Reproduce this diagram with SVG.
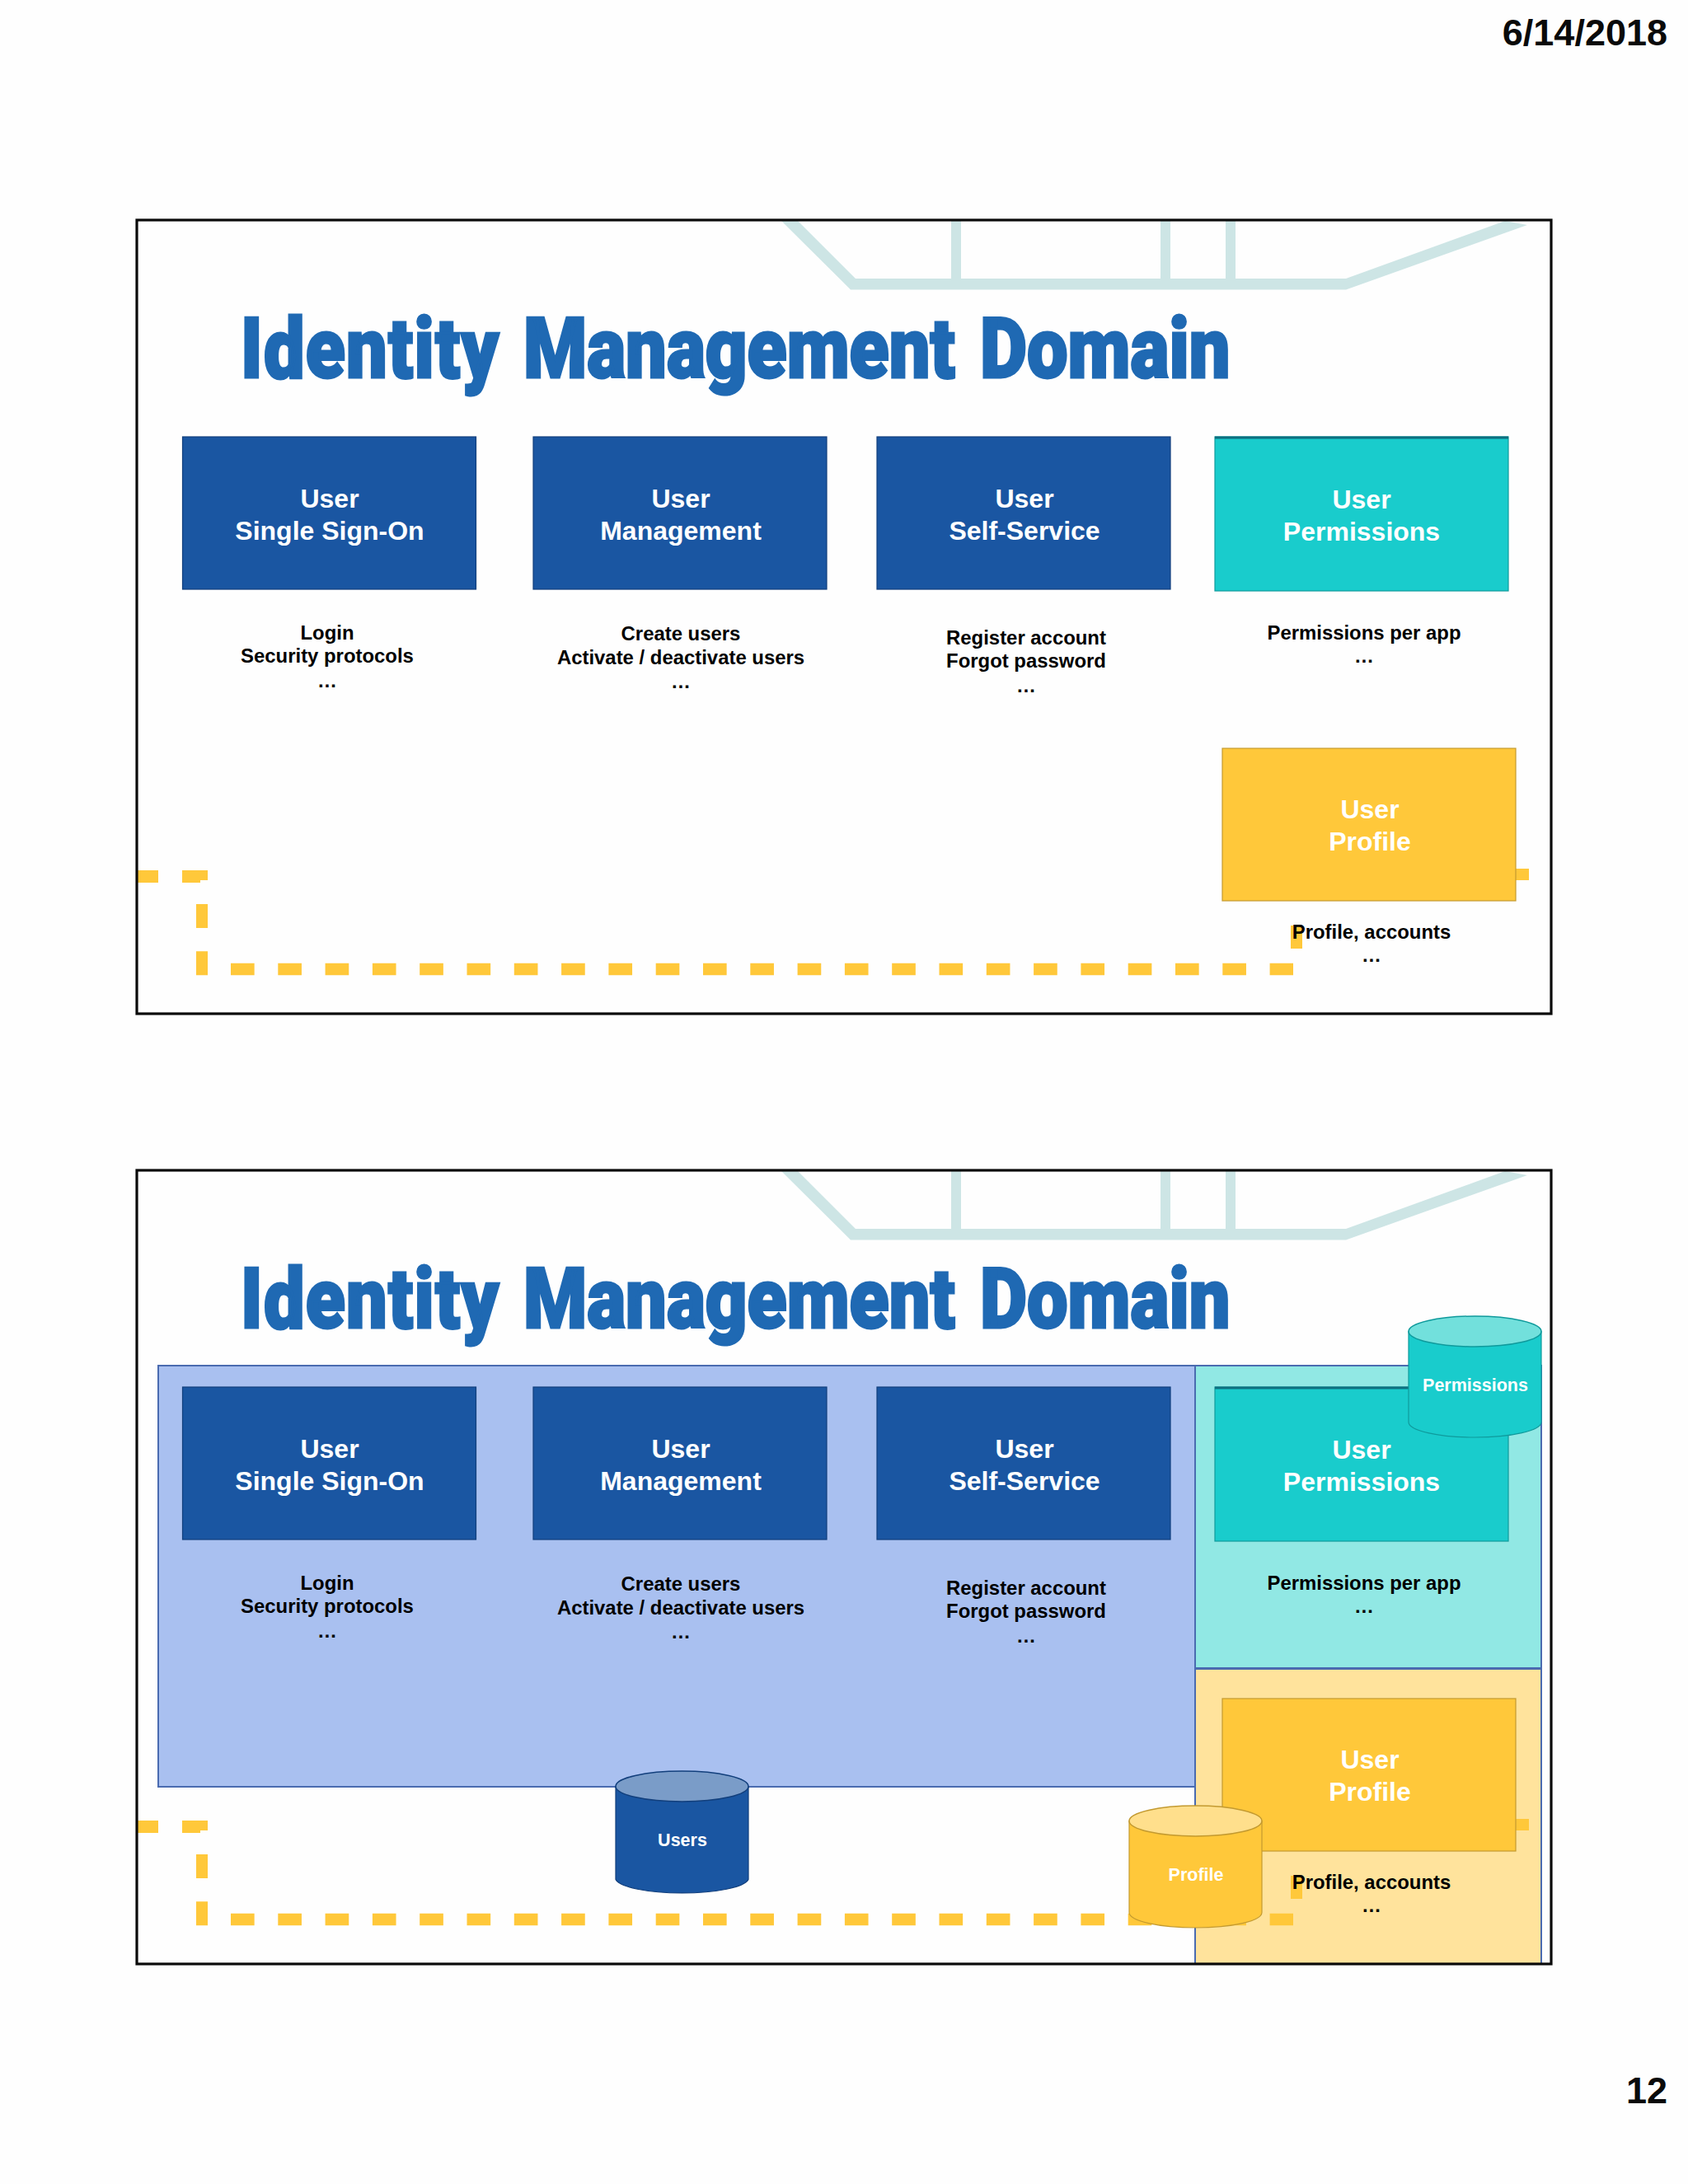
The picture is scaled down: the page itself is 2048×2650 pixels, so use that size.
<svg xmlns="http://www.w3.org/2000/svg" width="2048" height="2650" viewBox="0 0 2048 2650">
<style>
text{font-family:"Liberation Sans",Arial,sans-serif;font-weight:700;text-anchor:middle}
.frame{fill:none;stroke:#0a0a0a;stroke-width:3.2}
.deco{fill:#cde5e5}
.title{font-family:Roboto,"Liberation Sans",sans-serif;font-weight:900;font-size:102px;fill:#1f69b3;stroke:#1f69b3;stroke-width:3;text-anchor:start}
.b{stroke-width:1.2}
.blue{fill:#1a56a2;stroke:#123f7c}
.teal{fill:#19cccc;stroke:#0f9a9c}
.gold{fill:#ffc83a;stroke:#c39a30}
.h{font-size:32px;fill:#fff}
.s{font-size:23.9px;fill:#000}
.c{font-size:21.5px;fill:#fff}
.head{font-size:45px;fill:#0a0a0a;text-anchor:end}
.dash{fill:none;stroke:#ffc83a;stroke-width:14.5;stroke-dasharray:28.65 28.65}
.dashv{fill:none;stroke:#ffc83a;stroke-width:14;stroke-dasharray:29 28.3}
.seg{fill:#ffc83a}
.region{stroke:#4a6bb0;stroke-width:2}
</style>
<defs>
<g id="deco">
<polygon class="deco" points="948,268 968,268 1038,338 1154,338 1154,268 1166,268 1166,338 1408,338 1408,268 1420,268 1420,338 1487,338 1487,268 1499,268 1499,338 1633,338 1826,268 1853,273 1633,351.5 1032,351.5"/>
</g>
<g id="dashes">
<path class="dash" d="M280 1176H1569"/>
<path class="dashv" d="M245 1097V1184"/>
<rect class="seg" x="167" y="1056" width="25" height="15"/>
<path class="seg" d="M221 1056H252V1068H243V1071H221Z"/>
<rect class="seg" x="1566" y="1123" width="14" height="28"/>
<rect class="seg" x="1839" y="1054" width="16" height="14"/>
</g>
<g id="t-sso"><text class="s" x="397" y="776">Login</text><text class="s" x="397" y="804">Security protocols</text><text class="s" x="397" y="834">…</text></g>
</defs>
<rect width="2048" height="2650" fill="#fefefe"/>
<text class="head" x="2023" y="55">6/14/2018</text>
<text class="head" x="2023" y="2552">12</text>

<g id="slide-1">
<use href="#deco"/>
<text class="title" transform="translate(0 458) scale(.865 1)"><tspan x="337.6" letter-spacing="1.4">Identity</tspan> <tspan x="734">Management</tspan> <tspan x="1374.5">Domain</tspan></text>
<g id="connectors-1"><use href="#dashes"/></g>
<g id="node-sso-1"><rect class="blue b" x="221.5" y="530" width="356" height="185"/><text class="h" x="400" y="616">User</text><text class="h" x="400" y="654.5">Single Sign-On</text><use href="#t-sso"/></g>
<g id="node-mgmt-1"><rect class="blue b" x="647" y="530" width="356" height="185"/><text class="h" x="826" y="616">User</text><text class="h" x="826" y="654.5">Management</text><text class="s" x="826" y="777">Create users</text><text class="s" x="826" y="805.5">Activate / deactivate users</text><text class="s" x="826" y="835">…</text></g>
<g id="node-self-1"><rect class="blue b" x="1064" y="530" width="356" height="185"/><text class="h" x="1243" y="616">User</text><text class="h" x="1243" y="654.5">Self-Service</text><text class="s" x="1245" y="782">Register account</text><text class="s" x="1245" y="810">Forgot password</text><text class="s" x="1245" y="840">…</text></g>
<g id="node-perm-1"><rect class="teal b" x="1474" y="530" width="356" height="187"/><path d="M1474 531H1830" stroke="#0f6f80" stroke-width="3"/><text class="h" x="1652" y="617">User</text><text class="h" x="1652" y="655.5">Permissions</text><text class="s" x="1655" y="776">Permissions per app</text><text class="s" x="1655" y="804">…</text></g>
<g id="node-profile-1"><rect class="gold b" x="1483" y="908" width="356" height="185"/><text class="h" x="1662" y="993">User</text><text class="h" x="1662" y="1032">Profile</text><text class="s" x="1664" y="1138.5">Profile, accounts</text><text class="s" x="1664" y="1167">…</text></g>
<rect class="frame" x="166" y="267" width="1716" height="963"/>
</g>

<g id="slide-2">
<use href="#deco" y="1153"/>
<text class="title" transform="translate(0 1611) scale(.865 1)"><tspan x="337.6" letter-spacing="1.4">Identity</tspan> <tspan x="734">Management</tspan> <tspan x="1374.5">Domain</tspan></text>
<g id="connectors-2"><use href="#dashes" y="1153"/></g>
<g id="region-users"><rect class="region" x="192" y="1657" width="1258" height="511" fill="#a9c0f0"/></g>
<g id="region-perm"><rect class="region" x="1450" y="1657" width="420" height="367" fill="#91e8e4"/></g>
<g id="region-profile"><rect class="region" x="1450" y="2025" width="420" height="358" fill="#ffc83a" fill-opacity=".5"/></g>
<g id="node-sso-2"><rect class="blue b" x="221.5" y="1683" width="356" height="185"/><text class="h" x="400" y="1769">User</text><text class="h" x="400" y="1807.5">Single Sign-On</text><use href="#t-sso" y="1153"/></g>
<g id="node-mgmt-2"><rect class="blue b" x="647" y="1683" width="356" height="185"/><text class="h" x="826" y="1769">User</text><text class="h" x="826" y="1807.5">Management</text><text class="s" x="826" y="1930">Create users</text><text class="s" x="826" y="1958.5">Activate / deactivate users</text><text class="s" x="826" y="1988">…</text></g>
<g id="node-self-2"><rect class="blue b" x="1064" y="1683" width="356" height="185"/><text class="h" x="1243" y="1769">User</text><text class="h" x="1243" y="1807.5">Self-Service</text><text class="s" x="1245" y="1935">Register account</text><text class="s" x="1245" y="1963">Forgot password</text><text class="s" x="1245" y="1993">…</text></g>
<g id="node-perm-2"><rect class="teal b" x="1474" y="1683" width="356" height="187"/><path d="M1474 1684H1830" stroke="#0f6f80" stroke-width="3"/><text class="h" x="1652" y="1770">User</text><text class="h" x="1652" y="1808.5">Permissions</text><text class="s" x="1655" y="1929">Permissions per app</text><text class="s" x="1655" y="1957">…</text></g>
<g id="node-profile-2"><rect class="gold b" x="1483" y="2061" width="356" height="185"/><text class="h" x="1662" y="2146">User</text><text class="h" x="1662" y="2185">Profile</text><text class="s" x="1664" y="2291.5">Profile, accounts</text><text class="s" x="1664" y="2320">…</text></g>
<rect class="frame" x="166" y="1420" width="1716" height="963"/>
<g id="db-users"><path class="blue b" d="M747 2167.5V2280.5A81 18.5 0 0 0 908 2280.5V2167.5Z"/><ellipse cx="827.5" cy="2167.5" rx="80.5" ry="18.5" fill="#7a9cc8" stroke="#123f7c" stroke-width="1.5"/><text class="c" x="828" y="2240">Users</text></g>
<g id="db-permissions"><path class="teal b" d="M1709 1615.5V1725.5A80.5 18.5 0 0 0 1870 1725.5V1615.5Z"/><ellipse cx="1789.5" cy="1615.5" rx="80.5" ry="18.5" fill="#72e0dc" stroke="#0f9a9c" stroke-width="1.5"/><text class="c" x="1790" y="1688">Permissions</text></g>
<g id="db-profile"><path class="gold b" d="M1370 2209.5V2320.5A80.5 18.5 0 0 0 1531 2320.5V2209.5Z"/><ellipse cx="1450.5" cy="2209.5" rx="80.5" ry="18.5" fill="#ffdf8c" stroke="#c39a30" stroke-width="1.5"/><text class="c" x="1451" y="2282">Profile</text></g>
</g>
</svg>
